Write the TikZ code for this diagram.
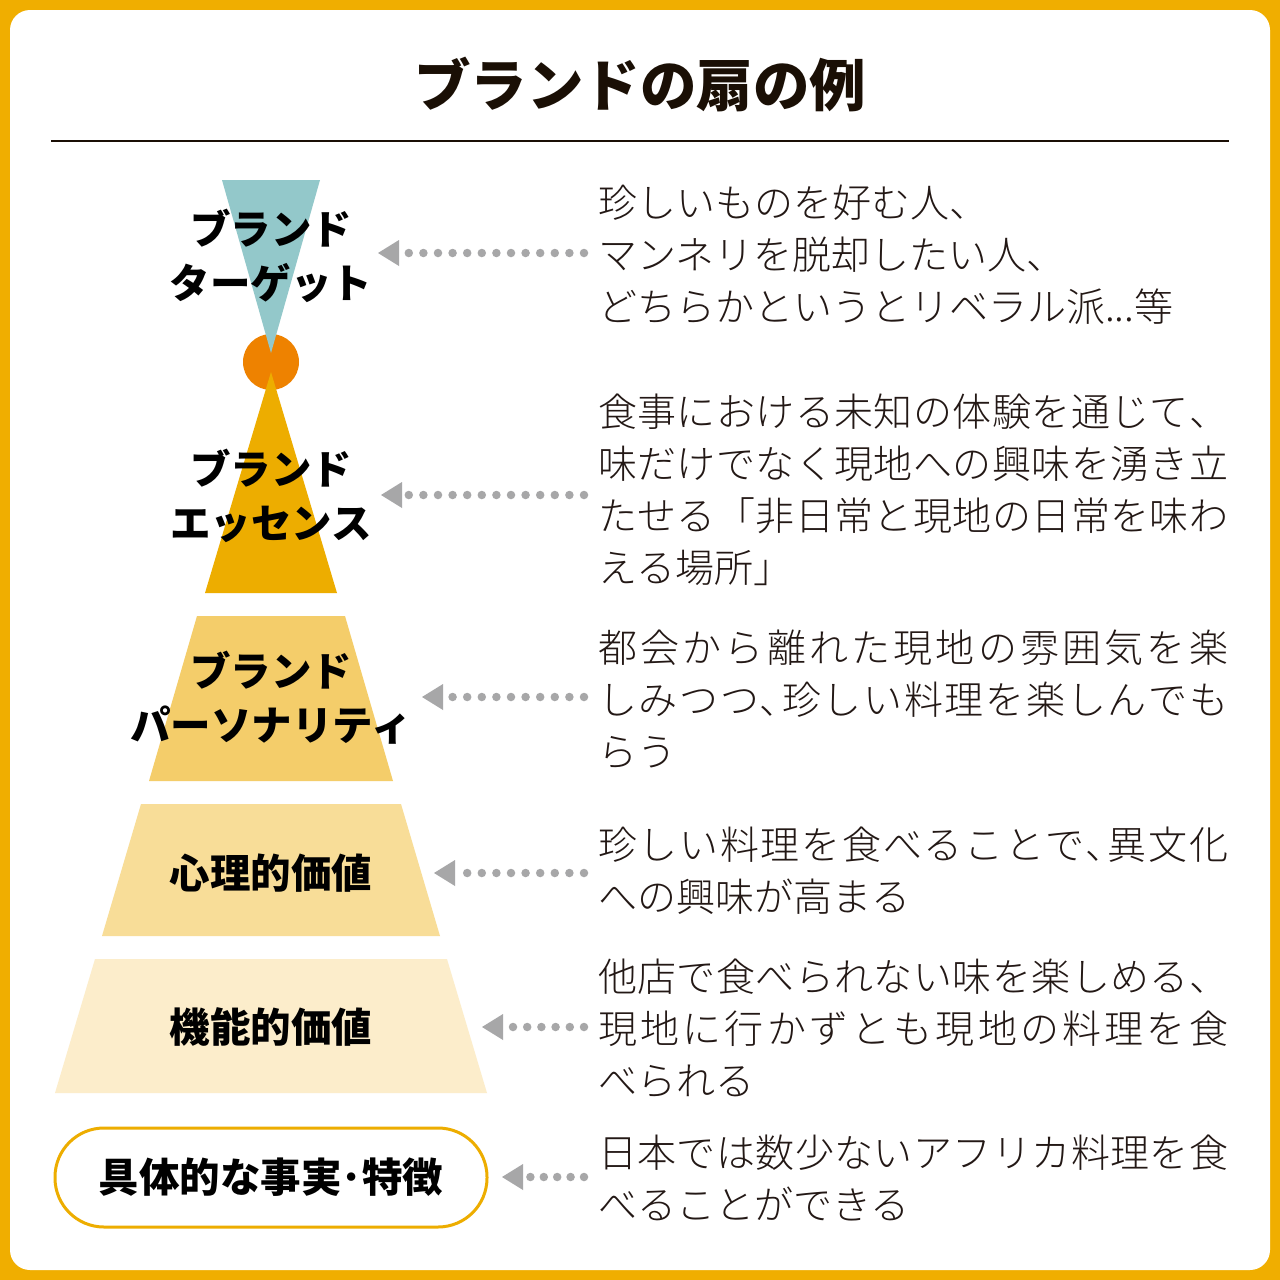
\documentclass[tikz,border=0pt]{standalone}
\usepackage{fontspec}
\usetikzlibrary{calc}
\IfFontExistsTF{Noto Sans CJK JP Light}{\newfontfamily\jpbody{Noto Sans CJK JP Light}}{\newfontfamily\jpbody{Noto Sans CJK JP}}
\newfontfamily\jpbase{Noto Sans CJK JP}
\IfFontExistsTF{Noto Sans CJK JP Black}{\newfontfamily\jpheavyA{Noto Sans CJK JP Black}\def\jpheavy{\jpheavyA}}{\def\jpheavy{\jpbase\bfseries}}
\definecolor{cFrame}{HTML}{F0AE00}
\definecolor{cTeal}{HTML}{93C8CA}
\definecolor{cOrange}{HTML}{EE8200}
\definecolor{cGold}{HTML}{EDAD00}
\definecolor{cPers}{HTML}{F4CD6A}
\definecolor{cPsy}{HTML}{F8DD98}
\definecolor{cFunc}{HTML}{FCEDCB}
\definecolor{cGray}{HTML}{A7A7A8}
\definecolor{cTitle}{HTML}{1A0F05}
\definecolor{cText}{HTML}{231815}
\makeatletter
\def\jsp#1{\makebox[630pt][s]{\jsp@a#1\relax}}
\def\jsp@a#1{#1\jsp@b}
\def\jsp@b#1{\ifx\relax#1\else\hfil#1\expandafter\jsp@b\fi}
\makeatother
\begin{document}
\begin{tikzpicture}[x=1pt,y=-1pt,
  lab/.style={font=\jpheavy\fontsize{40.5}{54}\selectfont, text=black, align=center, inner sep=0pt},
  body/.style={font=\jpbody\fontsize{39}{52}\selectfont, text=cText, align=left, inner sep=0pt, anchor=west},
  dots/.style={draw=cGray, line width=8.5pt, line cap=round, dash pattern=on 0pt off 14.6pt},
  ahead/.style={fill=cGray}]
\useasboundingbox (0,0) rectangle (1280,1280);
\fill[cFrame] (0,0) rectangle (1280,1280);
\fill[white, rounded corners=20pt] (10,10) rectangle (1270,1270);
% title
\node[font=\jpheavy\fontsize{56.5}{56.5}\selectfont, text=cTitle, inner sep=0pt] (title) at (640,85) {ブランドの扇の例};
\draw[line width=1.5pt, cTitle] (51,141) -- (1229,141);
% fan shapes
\fill[cOrange] (271,362) circle[radius=28pt];
\fill[cTeal] (222,180) -- (320,180) -- (271,353) -- cycle;
\fill[cGold] (271,372) -- (337,593) -- (205,593) -- cycle;
\fill[cPers] (197,616) -- (345,616) -- (393,781) -- (149,781) -- cycle;
\fill[cPsy] (141,804) -- (401,804) -- (440,936) -- (102,936) -- cycle;
\fill[cFunc] (95,959) -- (447,959) -- (487,1093) -- (55,1093) -- cycle;
% labels
\node[lab] (target) at (271,256) {ブランド\\ターゲット};
\node[lab] (essence) at (271,495.5) {ブランド\\エッセンス};
\node[lab] (personality) at (271,697.5) {ブランド\\パーソナリティ};
\node[lab] (psych) at (271,873) {心理的価値};
\node[lab] (func) at (271,1027) {機能的価値};
\node[lab, draw=cGold, line width=3pt, fill=white, rounded corners=49pt, minimum width=432pt, minimum height=99pt] (fact) at (271,1177.5) {具体的な事実･特徴};
% descriptions
\node[body] (d1) at (598,255) {珍しいものを好む人、\\マンネリを脱却したい人、\\どちらかというとリベラル派...等};
\node[body] (d2) at (598,489.75) {\jsp{食事における未知の体験を通じて、}\\\jsp{味だけでなく現地への興味を湧き立}\\\jsp{たせる「非日常と現地の日常を味わ}\\える場所」};
\node[body] (d3) at (598,699.7) {\jsp{都会から離れた現地の雰囲気を楽}\\\jsp{しみつつ､珍しい料理を楽しんでも}\\らう};
\node[body] (d4) at (598,871) {\jsp{珍しい料理を食べることで､異文化}\\への興味が高まる};
\node[body] (d5) at (598,1028.7) {\jsp{他店で食べられない味を楽しめる、}\\\jsp{現地に行かずとも現地の料理を食}\\べられる};
\node[body] (d6) at (598,1178) {\jsp{日本では数少ないアフリカ料理を食}\\べることができる};
% arrows
\foreach \i/\y/\tip/\sp in {1/253/378/14.6, 2/495/381/14.6, 3/697/422/14.6, 4/873/434/14.6, 5/1027/482/14.2, 6/1177/502/13.4}{
  \coordinate (s\i) at (584,\y);
  \coordinate (e\i) at (\tip,\y);
  \draw[dots, dash pattern=on 0pt off \sp pt] (s\i) -- ($(e\i)+(26,0)$);
  \fill[ahead] (e\i) -- ++(21,-13) -- ++(0,26) -- cycle;
}
\end{tikzpicture}
\end{document}
